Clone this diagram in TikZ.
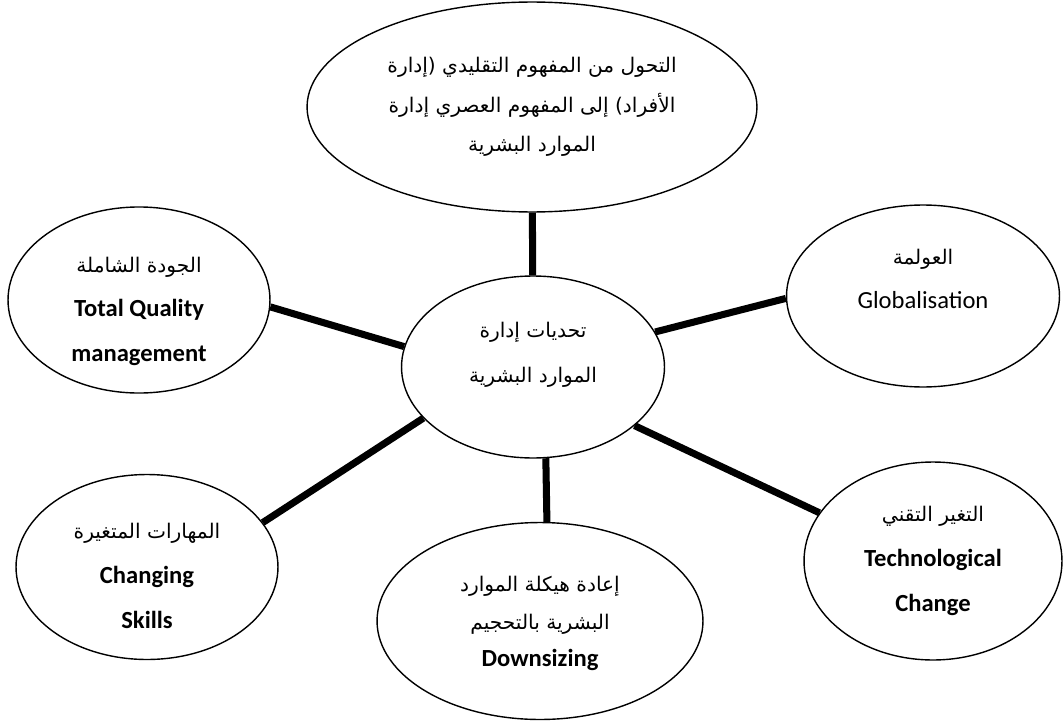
\documentclass[tikz,border=0pt]{standalone}
\usepackage{fontspec}
\setmainfont{Carlito}
\newfontfamily\arabicfont[Script=Arabic,Scale=0.82]{DejaVu Sans}
\TeXXeTstate=1
\usetikzlibrary{shapes.geometric, positioning}

\newcommand{\artxt}[1]{{\arabicfont\beginR #1\endR}}

\begin{document}
\begin{tikzpicture}[
    x=0.02cm, y=-0.02cm,
    font=\fontsize{14}{25.5}\selectfont,
    bubble/.style={draw, ellipse, line width=0.8pt, inner sep=0pt, align=center},
    link/.style={line width=4pt},
]
    \useasboundingbox (0,0) rectangle (1064,723);

    %==================== CENTRE ====================
    \node[bubble, minimum width=5.26cm, minimum height=3.64cm] (ctr) at (533,367)
        {\artxt{تحديات إدارة}\\\artxt{الموارد البشرية}\\[-8.5pt]\mbox{}};

    %==================== TOP ====================
    \node[bubble, minimum width=9cm, minimum height=4.2cm,
          font=\fontsize{14}{22.5}\selectfont] (top) at (532,107)
        {\artxt{التحول من المفهوم التقليدي (إدارة}\\
         \artxt{الأفراد) إلى المفهوم العصري إدارة}\\
         \artxt{الموارد البشرية}};

    %==================== LEFT / RIGHT ====================
    \node[bubble, minimum width=5.24cm, minimum height=3.68cm] (tqm) at (139,300)
        {\mbox{}\\[-4pt]\artxt{الجودة الشاملة}\\\textbf{Total Quality}\\\textbf{management}};
    \node[bubble, minimum width=5.46cm, minimum height=3.64cm] (glob) at (923,296)
        {\artxt{العولمة}\\Globalisation\\[-6pt]\mbox{}};

    %==================== BOTTOM ROW ====================
    \node[bubble, minimum width=5.24cm, minimum height=3.7cm] (skills) at (147,567)
        {\mbox{}\\[-6.5pt]\artxt{المهارات المتغيرة}\\\textbf{Changing}\\\textbf{Skills}};
    \node[bubble, minimum width=6.52cm, minimum height=3.94cm,
          font=\fontsize{14}{21.5}\selectfont] (downs) at (540,621)
        {\mbox{}\\[-10pt]\artxt{إعادة هيكلة الموارد}\\\artxt{البشرية بالتحجيم}\\\textbf{Downsizing}};
    \node[bubble, minimum width=5.16cm, minimum height=3.96cm] (tech) at (933,561)
        {\artxt{التغير التقني}\\\textbf{Technological}\\\textbf{Change}};

    %==================== LINKS ====================
    \draw[link] (top) -- (ctr);
    \draw[link] (ctr.171) -- (tqm.-3);
    \draw[link] (ctr.16) -- (glob.181);
    \draw[link] (ctr.205) -- (skills.21);
    \draw[link] (ctr.278) -- (downs.86);
    \draw[link] (ctr.330) -- (tech.157);

\end{tikzpicture}
\end{document}
